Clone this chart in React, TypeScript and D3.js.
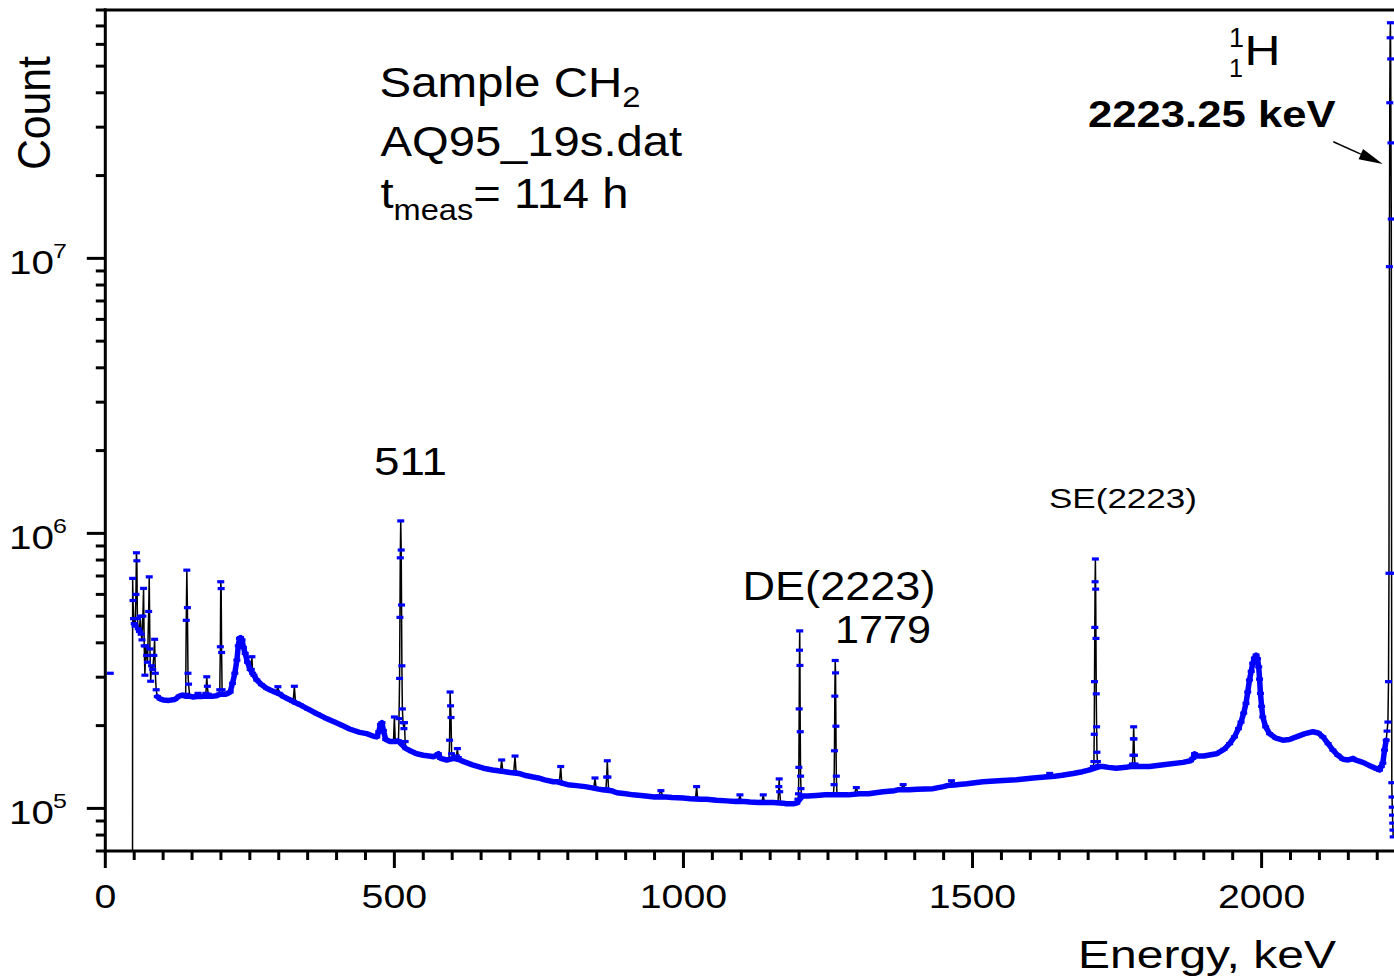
import React, { useRef, useState, useLayoutEffect } from 'react';
import * as d3 from 'd3';

type Pt = [number, number];

const W = 1394;
const H = 979;
const FONT = "'Liberation Sans', Arial, Helvetica, sans-serif";
const BLUE = '#0000ff';

const xDomain: [number, number] = [0, 2229];
const yDomain: [number, number] = [7e4, 8e7];
const xMajorTicks = [0, 500, 1000, 1500, 2000];
const xMinorStep = 50;

// lone channel at very low energy (marker only)
const isolatedPoints: Pt[] = [[8.6, 3.1e5]];

// smooth continuum (Compton background)
const backgroundPoints: Pt[] = [
  [90, 2.55e5], [95, 2.5e5], [100, 2.48e5], [110, 2.47e5], [120, 2.49e5], [128, 2.56e5], [133, 2.58e5],
  [138, 2.56e5], [146, 2.56e5], [152, 2.54e5], [158, 2.55e5], [166, 2.55e5], [172, 2.56e5], [180, 2.56e5],
  [187, 2.56e5], [193, 2.57e5], [197, 2.6e5], [204, 2.6e5], [208, 2.6e5], [212, 2.62e5], [216, 2.65e5],
  [220, 2.85e5], [224, 3.1e5], [227.6, 3.46e5], [230, 3.9e5], [232, 4.15e5], [234, 4.18e5], [236.5, 4.1e5],
  [239, 3.85e5], [242, 3.66e5], [246, 3.4e5], [250.6, 3.2e5], [257, 3.05e5], [262, 2.93e5], [270, 2.82e5],
  [279.5, 2.73e5], [288, 2.68e5], [295, 2.64e5], [302, 2.6e5], [308, 2.55e5], [318, 2.49e5], [324, 2.45e5],
  [331, 2.41e5], [337, 2.38e5], [350, 2.3e5], [366, 2.21e5], [383, 2.12e5], [394.6, 2.07e5], [410, 2.0e5],
  [423.5, 1.94e5], [440, 1.89e5], [452, 1.87e5], [464, 1.83e5], [469.6, 1.82e5], [473, 1.9e5], [476, 2.02e5],
  [478.5, 2.05e5], [481, 1.92e5], [485, 1.78e5], [492.7, 1.75e5], [497, 1.75e5], [503, 1.75e5], [506, 1.76e5],
  [520, 1.65e5], [530, 1.61e5], [538.7, 1.58e5], [550, 1.56e5], [560, 1.55e5], [568, 1.54e5], [576, 1.58e5],
  [580, 1.52e5], [590.6, 1.5e5], [603, 1.52e5], [613, 1.5e5], [620, 1.48e5], [635, 1.44e5], [654, 1.4e5],
  [670, 1.38e5], [680, 1.37e5], [692, 1.36e5], [700, 1.35e5], [715, 1.34e5], [725, 1.32e5], [740, 1.3e5],
  [749, 1.29e5], [760, 1.27e5], [775, 1.25e5], [782, 1.25e5], [793, 1.23e5], [800, 1.22e5], [815, 1.21e5],
  [830, 1.2e5], [840, 1.19e5], [853, 1.175e5], [860, 1.17e5], [875, 1.16e5], [885, 1.14e5], [900, 1.13e5],
  [913, 1.12e5], [935, 1.11e5], [950, 1.1e5], [970, 1.1e5], [980, 1.095e5], [999.7, 1.09e5], [1012, 1.085e5],
  [1030, 1.08e5], [1040, 1.08e5], [1057, 1.07e5], [1075, 1.065e5], [1090, 1.06e5], [1105, 1.06e5],
  [1115, 1.055e5], [1130, 1.05e5], [1145, 1.05e5], [1155, 1.05e5], [1172, 1.045e5], [1178, 1.04e5],
  [1190, 1.04e5], [1196, 1.045e5], [1206, 1.11e5], [1215, 1.11e5], [1230, 1.115e5], [1245, 1.12e5],
  [1255, 1.12e5], [1270, 1.12e5], [1285, 1.12e5], [1305, 1.13e5], [1320, 1.13e5], [1345, 1.15e5],
  [1365, 1.16e5], [1372, 1.17e5], [1390, 1.17e5], [1405, 1.175e5], [1431.8, 1.18e5], [1450, 1.2e5],
  [1456, 1.21e5], [1472, 1.22e5], [1490, 1.23e5], [1518, 1.25e5], [1545, 1.26e5], [1576, 1.27e5],
  [1605, 1.29e5], [1625, 1.3e5], [1642, 1.31e5], [1655, 1.32e5], [1674, 1.34e5], [1690, 1.36e5],
  [1702.7, 1.38e5], [1706, 1.39e5], [1720, 1.42e5], [1725.7, 1.42e5], [1735, 1.41e5], [1748.7, 1.4e5],
  [1765, 1.41e5], [1773, 1.42e5], [1786, 1.42e5], [1806, 1.42e5], [1830, 1.44e5], [1864, 1.47e5],
  [1877, 1.49e5], [1881, 1.52e5], [1884, 1.58e5], [1888, 1.55e5], [1900, 1.55e5], [1921.7, 1.58e5],
  [1935, 1.64e5], [1944.7, 1.72e5], [1953, 1.82e5], [1960, 1.95e5], [1964.4, 2.06e5], [1969, 2.22e5],
  [1973, 2.41e5], [1976, 2.65e5], [1979, 2.93e5], [1982, 3.15e5], [1984.6, 3.37e5], [1987.5, 3.52e5],
  [1990.5, 3.61e5], [1993, 3.5e5], [1995, 3.27e5], [1996.5, 2.95e5], [1998, 2.62e5], [2000, 2.35e5],
  [2002, 2.15e5], [2007, 1.98e5], [2013.8, 1.87e5], [2025, 1.8e5], [2036.8, 1.77e5], [2048, 1.78e5],
  [2060, 1.82e5], [2075, 1.87e5], [2088.7, 1.9e5], [2098, 1.88e5], [2106, 1.82e5], [2115, 1.72e5],
  [2123.3, 1.63e5], [2132, 1.56e5], [2140.6, 1.51e5], [2150, 1.5e5], [2155, 1.51e5], [2158, 1.52e5],
  [2162, 1.5e5], [2175, 1.47e5], [2190, 1.42e5], [2200, 1.39e5], [2204, 1.38e5], [2207, 1.42e5],
  [2209.7, 1.46e5], [2212.6, 1.63e5], [2215.5, 1.77e5],
];

// X-ray / low energy lines below 90 keV
const lowEnergyCluster: Pt[] = [
  [46.8, 1e3], [47.3, 6.86e5], [48.0, 5.7e5], [48.8, 4.9e5], [50.0, 4.7e5], [51.5, 4.6e5], [53.0, 6.0e5],
  [53.8, 8.5e5], [54.6, 7.95e5], [55.5, 4.9e5], [57, 4.5e5], [59, 4.4e5], [60.5, 5.0e5], [62, 4.3e5],
  [63.5, 4.1e5], [65, 5.0e5], [66.2, 6.31e5], [67.3, 3.9e5], [68.5, 3.05e5], [70, 3.9e5], [71.5, 3.6e5],
  [73, 3.4e5], [75, 5.2e5], [76, 6.95e5], [77.2, 3.8e5], [78.5, 2.9e5], [80, 3.3e5], [82, 3.2e5],
  [84, 3.6e5], [85.3, 4.12e5], [86.5, 3.1e5], [88, 2.7e5],
];

// narrow lines between 100 and 1000 keV
const midPeaks: Pt[][] = [
  [[139, 2.6e5], [140, 4.83e5], [141, 7.35e5], [142, 5.37e5], [143, 3.1e5], [144, 2.83e5]],
  [[159, 2.58e5], [160.5, 2.62e5], [162, 2.55e5]],
  [[174, 2.62e5], [175.5, 3.01e5], [176.5, 2.78e5], [178, 2.6e5]],
  [[198, 2.7e5], [199, 3.87e5], [199.7, 6.67e5], [200.4, 6.3e5], [201.2, 3.69e5], [202, 2.7e5]],
  [[252.5, 3.2e5], [253.6, 3.56e5], [254.8, 3.1e5]],
  [[296, 2.66e5], [298.5, 2.77e5], [300.5, 2.62e5]],
  [[325, 2.45e5], [327, 2.78e5], [329, 2.42e5]],
  [[498.5, 1.76e5], [500, 2.15e5], [501.5, 1.76e5]],
  [[594.5, 1.51e5], [595.5, 1.77e5], [596.4, 2.65e5], [597.2, 2.36e5], [598, 2.14e5], [599, 1.58e5], [601, 1.52e5]],
  [[607.5, 1.55e5], [609, 1.65e5], [610.5, 1.53e5]],
  [[683.5, 1.37e5], [685.6, 1.5e5], [687.5, 1.36e5]],
  [[706.5, 1.36e5], [708.7, 1.55e5], [710.5, 1.35e5]],
  [[785.5, 1.25e5], [787.7, 1.42e5], [789.5, 1.24e5]],
  [[845, 1.19e5], [847, 1.29e5], [849, 1.18e5]],
  [[866, 1.18e5], [867.2, 1.3e5], [868.3, 1.49e5], [869.4, 1.3e5], [870.5, 1.17e5]],
  [[957, 1.11e5], [961, 1.16e5], [965, 1.1e5]],
];

// 511 keV annihilation line
const annihilationPeak: Pt[] = [
  [507, 1.76e5], [508, 2.12e5], [509, 2.97e5], [509.6, 4.95e5], [510.2, 8.15e5], [511, 1.11e6],
  [511.8, 8.7e5], [512.4, 5.49e5], [513, 3.3e5], [513.8, 2.3e5], [515, 2.05e5], [516.5, 1.95e5],
  [517.5, 2.05e5], [518.6, 1.75e5],
];

// lines between 1000 and 1900 keV
const highPeaks: Pt[][] = [
  [[1021, 1.09e5], [1022.8, 1.2e5], [1024.5, 1.085e5]],
  [[1095.5, 1.07e5], [1097.7, 1.12e5], [1100, 1.06e5]],
  [[1136, 1.06e5], [1138, 1.12e5], [1140, 1.05e5]],
  [[1163.5, 1.05e5], [1165, 1.2e5], [1165.6, 1.28e5], [1166.5, 1.15e5], [1168, 1.05e5]],
  [[1259.5, 1.13e5], [1260.5, 1.22e5], [1261.2, 1.62e5], [1261.8, 2.56e5], [1262.5, 3.45e5], [1263.1, 3.11e5],
    [1263.7, 1.99e5], [1264.4, 1.31e5], [1265.5, 1.13e5]],
  [[1296, 1.13e5], [1299, 1.19e5], [1302, 1.13e5]],
  [[1376, 1.17e5], [1380, 1.22e5], [1384, 1.17e5]],
  [[1460, 1.21e5], [1463.6, 1.26e5], [1467, 1.21e5]],
  [[1630, 1.31e5], [1633.5, 1.34e5], [1637, 1.31e5]],
  [[1776.5, 1.45e5], [1777.5, 1.56e5], [1778.2, 1.79e5], [1778.7, 1.98e5], [1779.3, 1.79e5], [1780, 1.56e5],
    [1781, 1.45e5], [1783, 1.42e5]],
];

// single and double escape peaks of the 2223 keV line
const doubleEscapePeak: Pt[] = [
  [1198, 1.08e5], [1199, 1.13e5], [1199.6, 1.41e5], [1200.2, 2.3e5], [1200.7, 3.76e5], [1201.1, 4.42e5],
  [1201.5, 3.31e5], [1202, 1.9e5], [1202.6, 1.31e5], [1203.3, 1.18e5], [1204.5, 1.11e5],
];
const singleEscapePeak: Pt[] = [
  [1709, 1.42e5], [1710, 1.48e5], [1710.5, 1.86e5], [1711, 2.89e5], [1711.5, 4.55e5], [1712, 6.67e5],
  [1712.5, 8.07e5], [1713, 6.27e5], [1713.5, 4.15e5], [1714, 2.61e5], [1714.6, 1.98e5], [1715.2, 1.6e5],
  [1716, 1.48e5], [1718, 1.43e5],
];

// 2223.25 keV hydrogen capture line
const hydrogenPeak: Pt[] = [
  [2217, 1.91e5], [2218.5, 2.06e5], [2219.5, 2.89e5], [2220.3, 7.16e5], [2221.0, 9.33e6], [2221.7, 3.68e7],
  [2222.3, 6.34e7], [2222.8, 7.19e7], [2223.3, 5.31e7], [2223.8, 2.63e7], [2224.3, 1.39e7], [2224.8, 7.16e5],
  [2225.2, 1.24e5], [2225.6, 1.1e5], [2226.0, 1.01e5], [2226.4, 9.45e4], [2226.8, 8.84e4], [2227.2, 8.34e4],
  [2227.6, 7.88e4],
];

function FitText(props: {
  x: number; y: number; w: number; fs: number; weight?: string | number; rotate?: number; sy?: number;
  children: React.ReactNode;
}) {
  const { x, y, w, fs, weight = 'normal', rotate = 0, sy = 1, children } = props;
  const ref = useRef<SVGTextElement>(null);
  const [sx, setSx] = useState(1);
  useLayoutEffect(() => {
    if (ref.current) {
      const b = ref.current.getBBox();
      if (b.width > 0) setSx(w / b.width);
    }
  }, [w]);
  return (
    <g transform={`translate(${x},${y}) rotate(${rotate}) scale(${sx},${sy})`}>
      <text ref={ref} x={0} y={0} fontSize={fs} fontWeight={weight} fontFamily={FONT} fill="#000">
        {children}
      </text>
    </g>
  );
}

export default function App() {
  const left = 105.3;
  const right = W;
  const top = 10;
  const bottom = 851;

  const x = d3.scaleLinear().domain(xDomain).range([left, right]);
  const y = d3.scaleLog().domain(yDomain).range([bottom, top]);

  const spectrum: Pt[] = [
    ...lowEnergyCluster,
    ...backgroundPoints,
    ...midPeaks.flat(),
    ...annihilationPeak,
    ...highPeaks.flat(),
    ...doubleEscapePeak,
    ...singleEscapePeak,
    ...hydrogenPeak,
  ].sort((a, b) => a[0] - b[0]);

  const line = d3.line<Pt>().x((d) => x(d[0])).y((d) => y(d[1]));

  const markerPts = [...spectrum, ...isolatedPoints];

  const xMinor = d3.range(xDomain[0], xDomain[1] + 0.001, xMinorStep);
  const yTicks = y.ticks();
  const isMajor = (v: number) => Math.abs(Math.log10(v) - Math.round(Math.log10(v))) < 1e-9;

  const TICK_SX = 1.19;

  return (
    <svg
      width={W}
      height={H}
      viewBox={`0 0 ${W} ${H}`}
      style={{ position: 'absolute', left: 0, top: 0, background: '#fff' }}
    >
      <defs>
        <clipPath id="plotClip">
          <rect x={left} y={top} width={right - left} height={bottom - top} />
        </clipPath>
      </defs>
      <rect x={0} y={0} width={W} height={H} fill="#fff" />

      <g clipPath="url(#plotClip)">
        <path d={line(spectrum) || ''} fill="none" stroke="#000" strokeWidth={1.5} strokeLinejoin="round" />
        <path
          d={line(backgroundPoints) || ''}
          fill="none"
          stroke={BLUE}
          strokeWidth={5.5}
          strokeLinejoin="round"
          strokeLinecap="round"
        />
        {markerPts.map((d, i) => (
          <rect key={i} x={x(d[0]) - 3.5} y={y(d[1]) - 1.6} width={7} height={3.2} fill={BLUE} />
        ))}
      </g>

      {/* axes */}
      <line x1={left} x2={left} y1={top - 1.5} y2={bottom + 1.5} stroke="#000" strokeWidth={3} />
      <line x1={left - 1.5} x2={right} y1={top} y2={top} stroke="#000" strokeWidth={3} />
      <line x1={left - 1.5} x2={right} y1={bottom} y2={bottom} stroke="#000" strokeWidth={3} />

      {xMinor.map((v) => {
        const major = xMajorTicks.includes(v);
        return (
          <line key={`xt${v}`} x1={x(v)} x2={x(v)} y1={bottom} y2={bottom + (major ? 17 : 9)} stroke="#000" strokeWidth={3} />
        );
      })}
      {xMajorTicks.map((v) => (
        <g key={`xl${v}`} transform={`translate(${x(v)},908) scale(${TICK_SX},1)`}>
          <text textAnchor="middle" fontSize={33} fontFamily={FONT} fill="#000">{v}</text>
        </g>
      ))}

      {yTicks.map((v) => {
        const major = isMajor(v);
        return (
          <line key={`yt${v}`} x1={left - (major ? 18.5 : 9.5)} x2={left} y1={y(v)} y2={y(v)} stroke="#000" strokeWidth={3} />
        );
      })}
      {yTicks.filter(isMajor).map((v) => {
        const e = Math.round(Math.log10(v));
        const ty = y(v);
        return (
          <g key={`yl${v}`}>
            <g transform={`translate(9,${ty + 16}) scale(${TICK_SX},1)`}>
              <text fontSize={34} fontFamily={FONT} fill="#000">10</text>
            </g>
            <g transform={`translate(53,${ty + 0}) scale(${TICK_SX},1)`}>
              <text fontSize={21} fontFamily={FONT} fill="#000">{e}</text>
            </g>
          </g>
        );
      })}

      {/* axis titles */}
      <FitText x={50} y={170} w={114} fs={41} rotate={-90} sy={1.13}>Count</FitText>
      <FitText x={1078} y={968} w={258} fs={39}>Energy, keV</FitText>

      {/* sample info */}
      <FitText x={379.5} y={97} w={261} fs={42}>
        Sample CH<tspan fontSize={29} dy={10}>2</tspan>
      </FitText>
      <FitText x={380.5} y={156} w={302} fs={42}>AQ95_19s.dat</FitText>
      <FitText x={380.5} y={208} w={248} fs={42}>
        t<tspan fontSize={29} dy={12}>meas</tspan><tspan dy={-12}>= 114 h</tspan>
      </FitText>

      {/* peak labels */}
      <FitText x={374} y={475} w={73} fs={38}>511</FitText>
      <FitText x={742.5} y={600} w={193} fs={40}>DE(2223)</FitText>
      <FitText x={835} y={643} w={96} fs={38}>1779</FitText>
      <FitText x={1049} y={508} w={148} fs={27}>SE(2223)</FitText>

      <FitText x={1229} y={46.7} w={15} fs={28}>1</FitText>
      <FitText x={1229} y={76.7} w={14} fs={25.6}>1</FitText>
      <FitText x={1244.5} y={65} w={36} fs={42}>H</FitText>
      <FitText x={1088} y={127} w={248} fs={37} weight="bold">2223.25 keV</FitText>

      {/* arrow */}
      {(() => {
        const x1 = 1333.3, y1 = 141.7, x2 = 1382.7, y2 = 164;
        const ang = Math.atan2(y2 - y1, x2 - x1);
        const L = 24, hw = 5.5;
        const bx = x2 - L * Math.cos(ang), by = y2 - L * Math.sin(ang);
        const px = -Math.sin(ang) * hw, py = Math.cos(ang) * hw;
        return (
          <g>
            <line x1={x1} y1={y1} x2={bx} y2={by} stroke="#000" strokeWidth={1.5} />
            <polygon points={`${x2},${y2} ${bx + px},${by + py} ${bx - px},${by - py}`} fill="#000" />
          </g>
        );
      })()}
    </svg>
  );
}
